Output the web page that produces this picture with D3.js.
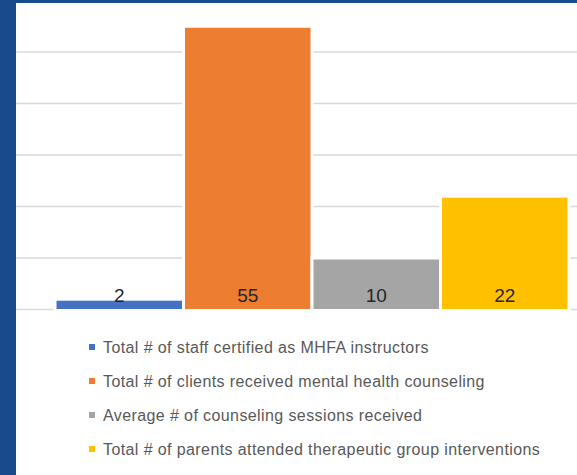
<!DOCTYPE html>
<html>
<head>
<meta charset="utf-8">
<script src="https://cdn.jsdelivr.net/npm/d3@7"></script>
<style>
  html, body { margin: 0; padding: 0; background: #ffffff; }
  svg { display: block; }
</style>
</head>
<body>
<svg id="chart" width="577" height="475"></svg>
<script>
// Series shown as one cluster of bars
const seriesNames = [
  "Total # of staff certified as MHFA instructors",
  "Total # of clients received mental health counseling",
  "Average # of counseling sessions received",
  "Total # of parents attended therapeutic group interventions"
];
const seriesValues = [2, 55, 10, 22];
const seriesColors = ["#4472C4", "#ED7D31", "#A5A5A5", "#FFC000"];
const gridTicks = [0, 10, 20, 30, 40, 50, 60];

const W = 577, H = 475;
const svg = d3.select("#chart");

svg.append("rect").attr("width", W).attr("height", H).attr("fill", "#ffffff");

const y = d3.scaleLinear().domain([0, 60]).range([309.5, 0.5]);
const x = d3.scaleBand().domain(seriesNames).range([55, 569]).paddingInner(0.0).paddingOuter(0);

// horizontal gridlines
svg.append("g").selectAll("line")
  .data(gridTicks)
  .join("line")
  .attr("x1", 16).attr("x2", W)
  .attr("y1", d => y(d)).attr("y2", d => y(d))
  .attr("stroke", "#d9d9d9")
  .attr("stroke-width", 1.5);

// bars
svg.append("g").selectAll("rect")
  .data(seriesNames)
  .join("rect")
  .attr("x", d => x(d))
  .attr("width", x.bandwidth())
  .attr("y", (d, i) => y(seriesValues[i]))
  .attr("height", (d, i) => y(0) - y(seriesValues[i]) + 1)
  .attr("fill", (d, i) => seriesColors[i])
  .attr("stroke", "#ffffff")
  .attr("stroke-width", 3);

// value labels at the base of each bar
svg.append("g").selectAll("text")
  .data(seriesNames)
  .join("text")
  .attr("x", d => x(d) + x.bandwidth() / 2)
  .attr("y", y(0) - 8)
  .attr("text-anchor", "middle")
  .attr("font-family", "'Liberation Sans', Arial, sans-serif")
  .attr("font-size", 19)
  .attr("fill", "#262626")
  .text((d, i) => seriesValues[i]);

// legend
const legend = svg.append("g").selectAll("g")
  .data(seriesNames)
  .join("g")
  .attr("transform", (d, i) => `translate(89, ${347 + i * 34})`);
legend.append("rect")
  .attr("x", 0).attr("y", -3).attr("width", 6).attr("height", 6)
  .attr("fill", (d, i) => seriesColors[i]);
legend.append("text")
  .attr("x", 14).attr("y", 5.5)
  .attr("font-family", "'Liberation Sans', Arial, sans-serif")
  .attr("font-size", 16)
  .attr("letter-spacing", 0.4)
  .attr("fill", "#595959")
  .text(d => d);

// dark blue frame on the left and top edges
svg.append("rect").attr("x", 0).attr("y", 0).attr("width", 16).attr("height", H).attr("fill", "#194a8c");
svg.append("rect").attr("x", 0).attr("y", 0).attr("width", W).attr("height", 3).attr("fill", "#194a8c");
</script>
</body>
</html>
